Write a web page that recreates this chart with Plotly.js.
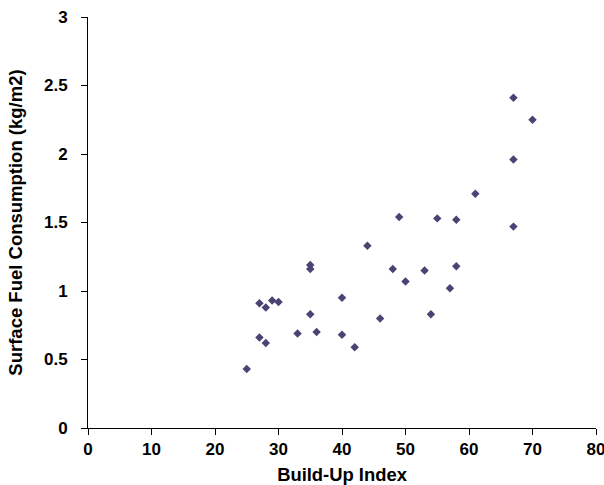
<!DOCTYPE html>
<html>
<head>
<meta charset="utf-8">
<script src="https://cdn.plot.ly/plotly-3.0.1.min.js"></script>
<style>html,body{margin:0;padding:0;background:#fff;}#chart{width:604px;height:485px;}</style>
</head>
<body>
<div id="chart"></div>
<script>
var buildUpIndex = [25, 27, 27, 28, 28, 29, 30, 33, 35, 35, 35, 36, 40, 40, 42, 44, 46, 48, 49, 50, 53, 54, 55, 57, 58, 58, 61, 67, 67, 67, 70];
var fuelConsumption = [0.43, 0.91, 0.66, 0.88, 0.62, 0.93, 0.92, 0.69, 1.19, 1.16, 0.83, 0.70, 0.95, 0.68, 0.59, 1.33, 0.80, 1.16, 1.54, 1.07, 1.15, 0.83, 1.53, 1.02, 1.52, 1.18, 1.71, 2.41, 1.96, 1.47, 2.25];
var xTicks = [0, 10, 20, 30, 40, 50, 60, 70, 80];
var yTicks = [0, 0.5, 1, 1.5, 2, 2.5, 3];

var fam = 'Liberation Sans, Arial, sans-serif';
Plotly.newPlot('chart', [{
  x: buildUpIndex,
  y: fuelConsumption,
  type: 'scatter',
  mode: 'markers',
  marker: {symbol: 'diamond', size: 6.5, color: '#4a4374'},
  hoverinfo: 'x+y',
  cliponaxis: false
}], {
  width: 604, height: 485,
  margin: {l: 88, r: 8, t: 17, b: 57},
  paper_bgcolor: '#fff', plot_bgcolor: '#fff',
  showlegend: false,
  font: {family: fam, size: 17, color: '#000'},
  xaxis: {
    range: [0, 80], tickvals: xTicks, ticktext: xTicks.map(function(v){return '<b>' + v + '</b>';}),
    showgrid: false, zeroline: false, showline: true, linecolor: '#000', linewidth: 1,
    ticks: 'outside', ticklen: 6, tickcolor: '#000', ticklabelstandoff: 0,
    ticklabeloverflow: 'allow',
    tickfont: {family: fam, size: 17, color: '#000'},
    title: {text: '<b>Build-Up Index</b>', font: {family: fam, size: 18.4, color: '#000'}, standoff: 9}
  },
  yaxis: {
    range: [0, 3], tickvals: yTicks, ticktext: yTicks.map(function(v){return '<b>' + v + '</b>';}),
    showgrid: false, zeroline: false, showline: true, linecolor: '#000', linewidth: 1,
    ticks: 'outside', ticklen: 6, tickcolor: '#000', ticklabelstandoff: 10,
    ticklabeloverflow: 'allow',
    tickfont: {family: fam, size: 17, color: '#000'},
    title: {text: '<b>Surface Fuel Consumption (kg/m2)</b>', font: {family: fam, size: 18.5, color: '#000'}, standoff: 16}
  }
}, {displayModeBar: false});
</script>
</body>
</html>
